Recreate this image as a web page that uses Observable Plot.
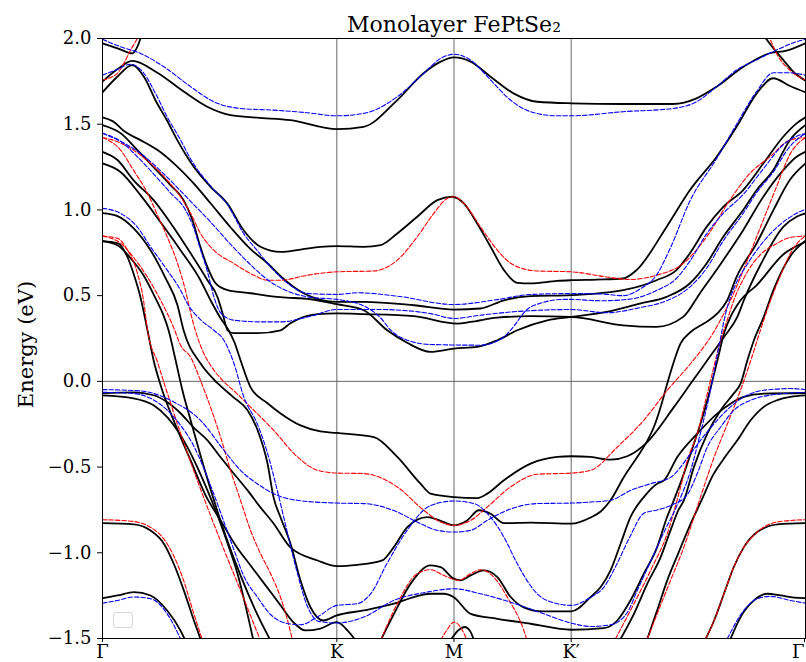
<!DOCTYPE html>
<html>
<head>
<meta charset="utf-8">
<script src="https://cdn.jsdelivr.net/npm/d3@7"></script>
<script src="https://cdn.jsdelivr.net/npm/@observablehq/plot@0.6"></script>
<style>
  html, body { margin: 0; padding: 0; background: #fff; }
  #wrap { position: relative; width: 806px; height: 662px; }
  #legendbox { position: absolute; left: 113px; top: 612px; width: 18px; height: 14px;
    border: 1px solid #d6d6d6; border-radius: 3px; background: #fff; }
</style>
</head>
<body>
<div id="wrap"><div id="chart"></div><div id="legendbox"></div></div>
<script>
// ---- k-path tick positions and labels ----
const kTicks = [0, 1, 1.5, 2, 3];
const kLabels = ["Γ", "K", "M", "K′", "Γ"];
const eTicks = [-1.5, -1.0, -0.5, 0.0, 0.5, 1.0, 1.5, 2.0];
const titleText = "Monolayer FePtSe₂";
const yLabel = "Energy (eV)";

// ---- black (solid) bands: [k, E] ----
const bkTopLeft = [[0,1.972],[0.064,1.943],[0.128,1.913],[0.149,1.952],[0.162,2.0],[0.179,2.08]];
const bkA = [[0,1.748],[0.063,1.82],[0.127,1.869],[0.234,1.80],[0.348,1.689],[0.447,1.602],[0.546,1.553],[0.660,1.538],[0.802,1.524],[1.0,1.471],[1.114,1.485],[1.258,1.641],[1.370,1.797],[1.443,1.865],[1.5,1.890],[1.571,1.865],[1.656,1.777],[1.754,1.680],[1.855,1.631],[2.0,1.622],[2.222,1.618],[2.436,1.618],[2.535,1.651],[2.621,1.719],[2.735,1.835],[2.847,1.914],[2.919,1.929],[3.0,1.972]];
const bkTopRight = [[2.80,2.06],[2.831,2.0],[2.863,1.943],[2.905,1.875],[2.948,1.806],[3.0,1.754]];
const bkC = [[0,1.686],[0.063,1.777],[0.127,1.845],[0.18,1.77],[0.226,1.64],[0.276,1.52],[0.318,1.41],[0.39,1.25],[0.461,1.135],[0.532,1.038],[0.603,0.88],[0.674,0.785],[0.760,0.755],[0.85,0.77],[0.93,0.785],[1.0,0.789],[1.115,0.785],[1.187,0.795],[1.258,0.863],[1.343,0.960],[1.429,1.057],[1.492,1.077],[1.542,1.038],[1.599,0.921],[1.656,0.785],[1.713,0.649],[1.770,0.575],[1.827,0.571],[1.940,0.586],[2.0,0.590],[2.108,0.594],[2.222,0.600],[2.279,0.649],[2.407,0.901],[2.507,1.116],[2.621,1.310],[2.706,1.485],[2.792,1.680],[2.862,1.768],[2.934,1.723],[3.0,1.686]];
const bkD = [[0,1.540],[0.043,1.518],[0.098,1.454],[0.162,1.407],[0.235,1.349],[0.303,1.273],[0.388,1.156],[0.461,1.039],[0.546,0.899],[0.632,0.771],[0.704,0.689],[0.760,0.613],[0.858,0.514],[1.0,0.464],[1.115,0.464],[1.329,0.444],[1.499,0.419],[1.613,0.425],[1.713,0.473],[1.827,0.497],[2.0,0.503],[2.222,0.532],[2.364,0.590],[2.449,0.649],[2.506,0.746],[2.578,0.901],[2.649,1.018],[2.734,1.116],[2.820,1.271],[2.905,1.427],[2.962,1.505],[3.0,1.540]];
const bkE = [[0,1.495],[0.077,1.448],[0.149,1.349],[0.218,1.250],[0.290,1.145],[0.346,1.057],[0.384,0.940],[0.418,0.783],[0.448,0.666],[0.482,0.573],[0.534,0.532],[0.632,0.514],[0.760,0.491],[0.888,0.479],[1.0,0.450],[1.115,0.415],[1.215,0.298],[1.300,0.225],[1.400,0.172],[1.5,0.191],[1.599,0.201],[1.685,0.240],[1.770,0.298],[1.898,0.356],[2.0,0.376],[2.151,0.405],[2.293,0.454],[2.407,0.493],[2.506,0.571],[2.578,0.688],[2.649,0.843],[2.734,0.999],[2.791,1.115],[2.862,1.232],[2.933,1.407],[3.0,1.495]];
const bkF = [[0,1.339],[0.064,1.291],[0.132,1.174],[0.218,1.057],[0.303,0.899],[0.376,0.747],[0.448,0.590],[0.491,0.491],[0.512,0.398],[0.534,0.298],[0.559,0.281],[0.662,0.281],[0.760,0.298],[0.802,0.339],[0.918,0.392],[1.0,0.396],[1.115,0.392],[1.329,0.380],[1.514,0.337],[1.571,0.347],[1.685,0.372],[1.827,0.380],[2.0,0.376],[2.222,0.327],[2.364,0.318],[2.478,0.376],[2.549,0.513],[2.649,0.707],[2.734,0.882],[2.820,1.077],[2.905,1.232],[2.962,1.310],[3.0,1.339]];
const bkG = [[0,1.271],[0.077,1.221],[0.162,1.086],[0.248,0.928],[0.333,0.765],[0.418,0.590],[0.461,0.473],[0.504,0.368],[0.538,0.298],[0.563,0.228],[0.589,0.123],[0.632,-0.035],[0.704,-0.128],[0.760,-0.187],[0.845,-0.257],[0.930,-0.292],[1.0,-0.301],[1.158,-0.325],[1.258,-0.441],[1.357,-0.597],[1.400,-0.655],[1.499,-0.675],[1.599,-0.681],[1.642,-0.655],[1.713,-0.577],[1.827,-0.480],[1.941,-0.441],[2.0,-0.437],[2.083,-0.441],[2.168,-0.457],[2.239,-0.437],[2.318,-0.363],[2.439,-0.149],[2.510,-0.013],[2.581,0.123],[2.652,0.259],[2.709,0.376],[2.737,0.473],[2.808,0.68],[2.905,0.901],[2.962,0.960],[3.0,0.980]];
const bkH = [[0,0.981],[0.064,0.964],[0.132,0.894],[0.205,0.765],[0.269,0.602],[0.320,0.444],[0.346,0.298],[0.418,0.105],[0.491,-0.011],[0.559,-0.093],[0.619,-0.169],[0.662,-0.285],[0.704,-0.478],[0.730,-0.677],[0.760,-0.794],[0.802,-0.946],[0.845,-1.162],[0.888,-1.319],[0.943,-1.395],[1.0,-1.365],[1.115,-1.336],[1.243,-1.297],[1.329,-1.258],[1.400,-1.239],[1.457,-1.239],[1.499,-1.259],[1.571,-1.356],[1.685,-1.385],[1.827,-1.414],[2.0,-1.449],[2.138,-1.44],[2.197,-1.395],[2.253,-1.278],[2.310,-1.122],[2.367,-0.967],[2.407,-0.80],[2.438,-0.694],[2.481,-0.538],[2.524,-0.363],[2.552,-0.246],[2.581,-0.110],[2.602,0.0],[2.629,0.15],[2.652,0.279],[2.680,0.376],[2.723,0.473],[2.791,0.56],[2.905,0.74],[3.0,0.814]];
const bkS1 = [[0,0.818],[0.064,0.806],[0.107,0.724],[0.132,0.631],[0.162,0.491],[0.192,0.298],[0.218,0.123],[0.248,-0.023],[0.312,-0.256],[0.376,-0.461],[0.440,-0.665],[0.504,-0.811],[0.568,-0.957],[0.632,-1.074],[0.696,-1.190],[0.760,-1.307],[0.815,-1.406],[0.866,-1.453],[0.930,-1.442],[1.0,-1.405],[1.05,-1.46],[1.1,-1.55]];
const bkS2 = [[0,0.818],[0.064,0.794],[0.120,0.718],[0.175,0.619],[0.226,0.485],[0.260,0.386],[0.282,0.298],[0.312,0.123],[0.341,-0.052],[0.376,-0.227],[0.418,-0.431],[0.469,-0.665],[0.525,-0.899],[0.589,-1.132],[0.653,-1.337],[0.717,-1.512]];
const bkV1 = [[0,-0.068],[0.132,-0.064],[0.218,-0.081],[0.277,-0.122],[0.333,-0.186],[0.388,-0.268],[0.448,-0.344],[0.504,-0.443],[0.559,-0.536],[0.619,-0.636],[0.674,-0.735],[0.730,-0.829],[0.802,-0.969],[0.918,-1.045],[1.0,-1.078],[1.087,-1.070],[1.194,-1.044],[1.243,-0.967],[1.301,-0.850],[1.386,-0.792],[1.457,-0.821],[1.499,-0.840],[1.556,-0.811],[1.606,-0.752],[1.656,-0.772],[1.713,-0.827],[1.827,-0.824],[2.0,-0.830],[2.083,-0.794],[2.126,-0.759],[2.168,-0.694],[2.225,-0.558],[2.282,-0.441],[2.318,-0.363],[2.353,-0.266],[2.382,-0.149],[2.410,-0.013],[2.431,0.084],[2.467,0.221],[2.510,0.288],[2.566,0.337],[2.624,0.396],[2.666,0.473],[2.706,0.609],[2.791,0.804],[2.863,0.999],[2.933,1.174],[3.0,1.271]];
const bkV2 = [[0,-0.082],[0.132,-0.099],[0.218,-0.140],[0.277,-0.210],[0.320,-0.286],[0.363,-0.385],[0.405,-0.502],[0.448,-0.636],[0.491,-0.782],[0.534,-0.946],[0.576,-1.121],[0.610,-1.307],[0.644,-1.512]];
const bkV3 = [[0,-0.827],[0.134,-0.834],[0.205,-0.870],[0.262,-0.947],[0.304,-1.064],[0.347,-1.219],[0.390,-1.395],[0.418,-1.502]];
const bkV4 = [[0,-1.265],[0.064,-1.249],[0.134,-1.229],[0.205,-1.249],[0.276,-1.337],[0.333,-1.454],[0.354,-1.513]];
const bkR = [[1.187,-1.511],[1.244,-1.356],[1.315,-1.180],[1.400,-1.074],[1.443,-1.084],[1.499,-1.151],[1.528,-1.161],[1.571,-1.132],[1.628,-1.103],[1.685,-1.142],[1.742,-1.258],[1.80,-1.32],[1.88,-1.342],[2.0,-1.342],[2.083,-1.258],[2.126,-1.200],[2.168,-1.103],[2.211,-0.947],[2.253,-0.792],[2.310,-0.675],[2.367,-0.597],[2.396,-0.578],[2.453,-0.441],[2.538,-0.305],[2.623,-0.188],[2.680,-0.130],[2.737,-0.091],[2.822,-0.072],[3.0,-0.068]];
const bkT = [[2.211,-1.502],[2.268,-1.356],[2.325,-1.180],[2.382,-1.025],[2.424,-0.869],[2.458,-0.75],[2.481,-0.694],[2.524,-0.499],[2.581,-0.305],[2.638,-0.168],[2.694,-0.070],[2.723,-0.013],[2.752,0.123],[2.780,0.240],[2.822,0.376],[2.863,0.532],[2.933,0.726],[3.0,0.820]];
const bkU = [[2.325,-1.502],[2.367,-1.336],[2.410,-1.161],[2.458,-1.0],[2.510,-0.83],[2.561,-0.68],[2.604,-0.55],[2.652,-0.45],[2.709,-0.344],[2.766,-0.227],[2.822,-0.149],[2.879,-0.110],[2.936,-0.091],[3.0,-0.082]];
const bkV3r = [[2.574,-1.502],[2.610,-1.395],[2.652,-1.239],[2.694,-1.083],[2.737,-0.967],[2.794,-0.879],[2.880,-0.834],[3.0,-0.827]];
const bkV4r = [[2.680,-1.502],[2.723,-1.375],[2.780,-1.278],[2.837,-1.239],[2.894,-1.249],[2.951,-1.262],[3.0,-1.265]];
const bkArcM = [[1.485,-1.51],[1.52,-1.45],[1.545,-1.433],[1.57,-1.46],[1.585,-1.51]];

// ---- red (dashed) bands ----
const rdTopLeft = [[0,1.758],[0.064,1.797],[0.091,1.855],[0.120,1.933],[0.148,2.0],[0.175,2.09]];
const rdTopRight = [[2.83,2.06],[2.848,2.0],[2.876,1.914],[2.933,1.816],[3.0,1.758]];
const rd1 = [[0,1.423],[0.064,1.398],[0.132,1.349],[0.205,1.271],[0.276,1.174],[0.333,1.077],[0.376,0.980],[0.418,0.863],[0.475,0.765],[0.560,0.688],[0.646,0.619],[0.703,0.590],[0.760,0.590],[0.873,0.619],[1.0,0.639],[1.158,0.644],[1.258,0.707],[1.343,0.843],[1.414,0.980],[1.471,1.067],[1.5,1.077],[1.542,1.038],[1.613,0.901],[1.685,0.765],[1.755,0.678],[1.855,0.644],[2.0,0.639],[2.151,0.609],[2.251,0.594],[2.364,0.619],[2.478,0.688],[2.578,0.843],[2.677,1.057],[2.763,1.213],[2.848,1.310],[2.933,1.407],[3.0,1.423]];
const rd2 = [[0,1.423],[0.077,1.349],[0.132,1.232],[0.192,1.098],[0.235,0.969],[0.277,0.841],[0.320,0.689],[0.354,0.531],[0.376,0.40],[0.400,0.28],[0.430,0.17],[0.461,0.094],[0.512,0.006],[0.568,-0.064],[0.632,-0.150],[0.730,-0.285],[0.832,-0.441],[0.918,-0.519],[1.0,-0.535],[1.115,-0.538],[1.258,-0.616],[1.371,-0.752],[1.443,-0.821],[1.5,-0.840],[1.571,-0.811],[1.642,-0.733],[1.741,-0.616],[1.855,-0.542],[2.0,-0.535],[2.083,-0.519],[2.197,-0.383],[2.310,-0.227],[2.410,-0.052],[2.510,0.104],[2.595,0.259],[2.652,0.396],[2.680,0.473],[2.744,0.68],[2.808,0.90],[2.872,1.12],[2.936,1.33],[3.0,1.423]];
const rd3 = [[0,0.847],[0.064,0.834],[0.107,0.765],[0.149,0.631],[0.175,0.473],[0.192,0.298],[0.235,0.111],[0.277,-0.070],[0.333,-0.303],[0.397,-0.549],[0.461,-0.782],[0.525,-1.004],[0.589,-1.220],[0.640,-1.395],[0.674,-1.512]];
const rd4 = [[0,0.847],[0.077,0.806],[0.132,0.724],[0.192,0.607],[0.248,0.473],[0.303,0.316],[0.333,0.211],[0.376,0.141],[0.418,0.006],[0.461,-0.151],[0.504,-0.326],[0.546,-0.518],[0.589,-0.694],[0.632,-0.870],[0.674,-1.004],[0.717,-1.121],[0.760,-1.261],[0.790,-1.395],[0.811,-1.512]];
const rd5 = [[0,-0.807],[0.132,-0.817],[0.205,-0.852],[0.260,-0.916],[0.303,-1.015],[0.346,-1.161],[0.388,-1.348],[0.427,-1.511]];
const rd6 = [[1.187,-1.511],[1.258,-1.297],[1.343,-1.122],[1.400,-1.099],[1.457,-1.132],[1.521,-1.161],[1.571,-1.122],[1.613,-1.099],[1.670,-1.142],[1.727,-1.258],[1.798,-1.453],[1.812,-1.511]];
const rd7 = [[1.443,-1.51],[1.47,-1.45],[1.5,-1.404],[1.535,-1.45],[1.555,-1.51]];
const rd8 = [[2.189,-1.502],[2.268,-1.297],[2.339,-1.103],[2.410,-0.888],[2.467,-0.616],[2.496,-0.461],[2.538,-0.305],[2.574,-0.110],[2.602,0.045],[2.638,0.240],[2.666,0.357],[2.694,0.473],[2.744,0.62],[2.808,0.74],[2.872,0.80],[2.936,0.84],[3.0,0.848]];
const rd9 = [[2.325,-1.502],[2.367,-1.356],[2.424,-1.161],[2.481,-0.967],[2.524,-0.792],[2.552,-0.675],[2.608,-0.45],[2.666,-0.25],[2.723,-0.05],[2.766,0.12],[2.808,0.3],[2.851,0.473],[2.894,0.62],[2.945,0.77],[3.0,0.848]];
const rd10 = [[2.574,-1.502],[2.610,-1.395],[2.652,-1.239],[2.694,-1.083],[2.737,-0.967],[2.794,-0.879],[2.880,-0.82],[3.0,-0.807]];

// ---- blue (dashed) bands ----
const bl0 = [[0,1.995],[0.077,1.952],[0.162,1.913],[0.262,1.835],[0.376,1.719],[0.475,1.631],[0.589,1.592],[0.731,1.582],[0.874,1.567],[1.0,1.549],[1.115,1.563],[1.258,1.660],[1.371,1.797],[1.443,1.884],[1.5,1.908],[1.571,1.874],[1.656,1.758],[1.741,1.641],[1.827,1.573],[1.941,1.549],[2.0,1.549],[2.222,1.573],[2.436,1.592],[2.535,1.631],[2.621,1.719],[2.706,1.816],[2.791,1.875],[2.877,1.933],[2.962,1.981],[3.0,1.995]];
const bl1 = [[0,1.786],[0.064,1.82],[0.120,1.85],[0.175,1.80],[0.226,1.68],[0.277,1.54],[0.324,1.43],[0.388,1.27],[0.461,1.14],[0.534,1.03],[0.602,0.863],[0.662,0.76],[0.730,0.649],[0.802,0.56],[0.874,0.513],[1.0,0.507],[1.087,0.517],[1.258,0.497],[1.499,0.448],[1.685,0.477],[1.827,0.507],[2.0,0.512],[2.126,0.51],[2.222,0.50],[2.296,0.54],[2.364,0.62],[2.424,0.78],[2.506,1.05],[2.621,1.30],[2.706,1.50],[2.791,1.69],[2.863,1.80],[2.933,1.80],[3.0,1.786]];
const bl2 = [[0,1.447],[0.077,1.40],[0.162,1.33],[0.269,1.20],[0.376,1.05],[0.461,0.93],[0.546,0.80],[0.632,0.68],[0.717,0.58],[0.802,0.52],[0.888,0.49],[1.0,0.478],[1.115,0.44],[1.187,0.37],[1.229,0.30],[1.300,0.240],[1.400,0.215],[1.613,0.211],[1.713,0.259],[1.741,0.298],[1.827,0.434],[1.969,0.478],[2.0,0.478],[2.126,0.47],[2.253,0.48],[2.364,0.53],[2.449,0.60],[2.506,0.70],[2.578,0.86],[2.649,0.98],[2.734,1.09],[2.820,1.24],[2.905,1.38],[2.962,1.43],[3.0,1.446]];
const bl3 = [[0,1.447],[0.077,1.40],[0.149,1.31],[0.218,1.21],[0.290,1.10],[0.354,1.00],[0.388,0.90],[0.418,0.77],[0.448,0.64],[0.474,0.50],[0.504,0.40],[0.560,0.357],[0.674,0.347],[0.760,0.347],[0.888,0.38],[1.0,0.419],[1.188,0.419],[1.400,0.395],[1.5,0.367],[1.613,0.386],[1.755,0.406],[2.0,0.419],[2.151,0.40],[2.293,0.43],[2.407,0.47],[2.506,0.55],[2.578,0.66],[2.649,0.82],[2.734,0.98],[2.791,1.10],[2.862,1.22],[2.933,1.37],[3.0,1.446]];
const bl4 = [[0,1.009],[0.077,0.980],[0.148,0.901],[0.205,0.785],[0.276,0.649],[0.333,0.532],[0.362,0.454],[0.418,0.36],[0.475,0.298],[0.518,0.240],[0.561,0.104],[0.603,-0.091],[0.660,-0.246],[0.700,-0.40],[0.743,-0.62],[0.785,-0.86],[0.828,-1.10],[0.871,-1.30],[0.922,-1.40],[1.0,-1.41],[1.115,-1.375],[1.243,-1.278],[1.386,-1.229],[1.5,-1.210],[1.613,-1.239],[1.741,-1.288],[1.883,-1.356],[2.0,-1.41],[2.083,-1.43],[2.168,-1.42],[2.239,-1.35],[2.282,-1.22],[2.339,-1.05],[2.396,-0.88],[2.453,-0.72],[2.510,-0.52],[2.552,-0.30],[2.595,-0.05],[2.63,0.20],[2.66,0.40],[2.70,0.56],[2.75,0.68],[2.80,0.78],[2.905,0.93],[2.962,0.98],[3.0,1.004]];
const bl5 = [[0,-0.048],[0.162,-0.056],[0.304,-0.120],[0.418,-0.227],[0.518,-0.402],[0.589,-0.519],[0.660,-0.597],[0.746,-0.665],[0.831,-0.694],[1.0,-0.710],[1.115,-0.713],[1.258,-0.762],[1.343,-0.821],[1.428,-0.869],[1.5,-0.879],[1.571,-0.869],[1.642,-0.811],[1.727,-0.752],[1.855,-0.713],[2.0,-0.710],[2.083,-0.704],[2.168,-0.694],[2.253,-0.636],[2.339,-0.597],[2.424,-0.56],[2.510,-0.421],[2.552,-0.344],[2.623,-0.227],[2.680,-0.149],[2.737,-0.091],[2.822,-0.052],[2.936,-0.042],[3.0,-0.048]];
const bl6 = [[0,-0.064],[0.120,-0.069],[0.205,-0.099],[0.277,-0.169],[0.333,-0.256],[0.388,-0.373],[0.431,-0.502],[0.474,-0.654],[0.516,-0.811],[0.559,-0.975],[0.602,-1.133],[0.662,-1.26],[0.717,-1.36],[0.781,-1.41],[0.845,-1.42],[0.922,-1.37],[1.0,-1.307],[1.087,-1.297],[1.144,-1.24],[1.215,-1.06],[1.300,-0.869],[1.400,-0.724],[1.5,-0.698],[1.585,-0.713],[1.656,-0.792],[1.713,-0.908],[1.770,-1.064],[1.855,-1.239],[1.941,-1.297],[2.0,-1.307],[2.083,-1.26],[2.140,-1.20],[2.197,-1.06],[2.253,-0.90],[2.310,-0.77],[2.367,-0.75],[2.432,-0.72],[2.496,-0.66],[2.538,-0.538],[2.581,-0.383],[2.638,-0.266],[2.694,-0.169],[2.766,-0.110],[2.851,-0.080],[3.0,-0.064]];
const bl7 = [[0,-1.294],[0.064,-1.278],[0.134,-1.258],[0.205,-1.268],[0.276,-1.356],[0.333,-1.502]];
const bl8 = [[2.666,-1.502],[2.737,-1.336],[2.794,-1.268],[2.851,-1.254],[2.936,-1.278],[3.0,-1.294]];

const blackBands = [bkTopLeft, bkA, bkTopRight, bkC, bkD, bkE, bkF, bkG, bkH, bkS1, bkS2, bkV1, bkV2, bkV3, bkV4, bkR, bkT, bkU, bkV3r, bkV4r, bkArcM];
const redBands = [rdTopLeft, rdTopRight, rd1, rd2, rd3, rd4, rd5, rd6, rd7, rd8, rd9, rd10];
const blueBands = [bl0, bl1, bl2, bl3, bl4, bl5, bl6, bl7, bl8];

const lineOpts = (stroke, width, dash) => ({
  x: d => d[0], y: d => d[1], stroke, strokeWidth: width,
  strokeDasharray: dash, curve: "monotone-x", clip: true
});

const chart = Plot.plot({
  width: 806,
  height: 662,
  marginLeft: 102,
  marginRight: 1,
  marginTop: 38,
  marginBottom: 24,
  style: { fontFamily: "'DejaVu Serif', serif", fontSize: "18px", color: "#000", background: "#fff" },
  x: { domain: [0, 3] },
  y: { domain: [-1.5, 2.0] },
  marks: [
    Plot.ruleX([1, 1.5, 2], { stroke: "#555", strokeWidth: 0.9 }),
    Plot.ruleY([0], { stroke: "#555", strokeWidth: 0.9 }),
    ...blackBands.map(b => Plot.line(b, lineOpts("#000", 1.8, null))),
    ...redBands.map(b => Plot.line(b, lineOpts("#ff0000", 1.1, "4.5,2"))),
    ...blueBands.map(b => Plot.line(b, lineOpts("#0000ff", 1.1, "4.5,2"))),
    Plot.frame({ stroke: "#000", strokeWidth: 1 }),
    Plot.axisY({ ticks: eTicks, tickFormat: d3.format(".1f"), tickSize: 5, tickPadding: 6, label: null, fontSize: 18 }),
    Plot.axisX({ ticks: kTicks.slice(0, 4), tickFormat: (d, i) => kLabels[i], tickSize: 4, tickPadding: 3, label: null, fontSize: 18 }),
    Plot.axisX({ ticks: kTicks.slice(4), tickFormat: () => kLabels[4], tickSize: 4, tickPadding: 3, label: null, fontSize: 18, textAnchor: "end", dx: -1 }),
    Plot.text([titleText], { frameAnchor: "top", dy: -7, lineAnchor: "bottom", fontSize: 22 }),
    Plot.text([yLabel], { frameAnchor: "left", dx: -76, dy: 6, rotate: -90, textAnchor: "middle", fontSize: 21 })
  ]
});
document.getElementById("chart").appendChild(chart);
</script>
</body>
</html>
